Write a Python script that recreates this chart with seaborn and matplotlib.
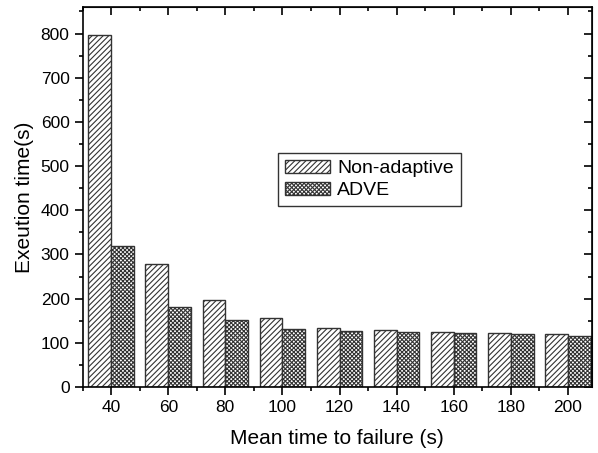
import numpy as np
import pandas as pd
import matplotlib
matplotlib.use("Agg")
import matplotlib.pyplot as plt
import seaborn as sns
from matplotlib.ticker import MultipleLocator

# ── Data ──────────────────────────────────────────────────────────────────────
mttf = [40, 60, 80, 100, 120, 140, 160, 180, 200]
non_adaptive = [797, 278, 197, 156, 133, 130, 125, 123, 121]
adve = [320, 182, 152, 131, 127, 124, 122, 119, 116]
methods = ["Non-adaptive", "ADVE"]
hatches = ["//////", "xxxxxxxx"]

df = pd.DataFrame({
    "mttf": mttf * 2,
    "time": non_adaptive + adve,
    "method": [methods[0]] * len(mttf) + [methods[1]] * len(mttf),
})

# ── Style ─────────────────────────────────────────────────────────────────────
sns.set_style("ticks")
plt.rcParams["font.family"] = ["Liberation Sans", "DejaVu Sans"]
plt.rcParams["hatch.linewidth"] = 0.8
plt.rcParams["hatch.color"] = "black"
plt.rcParams["text.color"] = "black"
plt.rcParams["axes.labelcolor"] = "black"
plt.rcParams["xtick.color"] = "black"
plt.rcParams["ytick.color"] = "black"

fig, ax = plt.subplots(figsize=(5.98, 4.53), dpi=100)
fig.subplots_adjust(left=0.1383, right=0.990, top=0.9845, bottom=0.1457)

sns.barplot(data=df, x="mttf", y="time", hue="method", hue_order=methods,
            native_scale=True, width=0.8, palette=["white", "white"],
            edgecolor="#333333", linewidth=1.0, errorbar=None, ax=ax)

for cont, h in zip(ax.containers, hatches):
    for bar in cont:
        bar.set_hatch(h)

ax.set_xlim(30, 208.5)
ax.set_ylim(0, 860)
ax.set_xticks(mttf)
ax.xaxis.set_minor_locator(MultipleLocator(10))
ax.yaxis.set_major_locator(MultipleLocator(100))
ax.yaxis.set_minor_locator(MultipleLocator(50))

for s in ax.spines.values():
    s.set_visible(True)
    s.set_linewidth(1.2)
    s.set_color("black")

ax.tick_params(which="both", direction="out", top=False, right=False,
               labelsize=12.5, width=1.2, color="black", labelcolor="black")
ax.tick_params(which="major", length=6)
ax.tick_params(which="minor", length=3)

# inward ticks on the top and right borders
sec_x = ax.secondary_xaxis("top")
sec_x.set_xticks(mttf)
sec_x.xaxis.set_minor_locator(MultipleLocator(10))
sec_x.tick_params(which="both", direction="in", labeltop=False, width=1.2)
sec_x.tick_params(which="major", length=6)
sec_x.tick_params(which="minor", length=3)
sec_y = ax.secondary_yaxis("right")
sec_y.yaxis.set_major_locator(MultipleLocator(100))
sec_y.yaxis.set_minor_locator(MultipleLocator(50))
sec_y.tick_params(which="both", direction="in", labelright=False, width=1.2)
sec_y.tick_params(which="major", length=6)
sec_y.tick_params(which="minor", length=3)

ax.set_xlabel("Mean time to failure (s)", fontsize=15, labelpad=10)
ax.set_ylabel("Exeution time(s)", fontsize=15, labelpad=5)

leg = ax.legend(ax.containers, methods, loc="upper left",
                bbox_to_anchor=(0.3835, 0.616), borderaxespad=0, fontsize=14,
                frameon=True, fancybox=False, edgecolor="black",
                handlelength=2.3, handleheight=0.65, borderpad=0.35,
                labelspacing=0.25, handletextpad=0.4)
leg.get_frame().set_linewidth(1.0)
for t in leg.get_texts():
    t.set_color("black")

plt.savefig("out.png", dpi=100)
plt.close()
